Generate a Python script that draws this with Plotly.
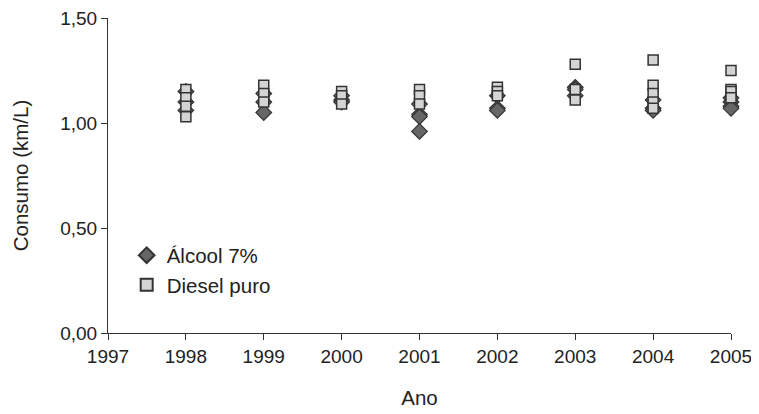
import plotly.graph_objects as go

# Data
alcool_x = [1998, 1998, 1998,
            1999, 1999, 1999,
            2000, 2000, 2000,
            2001, 2001, 2001, 2001,
            2002, 2002, 2002,
            2003, 2003, 2003,
            2004, 2004, 2004,
            2005, 2005, 2005, 2005]
alcool_y = [1.15, 1.10, 1.06,
            1.14, 1.10, 1.05,
            1.13, 1.11, 1.10,
            1.09, 1.04, 1.03, 0.96,
            1.13, 1.07, 1.06,
            1.17, 1.16, 1.13,
            1.11, 1.07, 1.06,
            1.12, 1.10, 1.08, 1.07]

diesel_x = [1998, 1998, 1998, 1998,
            1999, 1999, 1999,
            2000, 2000, 2000,
            2001, 2001, 2001,
            2002, 2002, 2002,
            2003, 2003, 2003,
            2004, 2004, 2004, 2004, 2004,
            2005, 2005, 2005, 2005]
diesel_y = [1.16, 1.12, 1.08, 1.03,
            1.18, 1.14, 1.10,
            1.15, 1.13, 1.09,
            1.16, 1.13, 1.09,
            1.17, 1.15, 1.13,
            1.28, 1.16, 1.11,
            1.30, 1.18, 1.14, 1.10, 1.07,
            1.25, 1.16, 1.15, 1.12]

x_ticks = [1997, 1998, 1999, 2000, 2001, 2002, 2003, 2004, 2005]
y_ticks = [0.0, 0.5, 1.0, 1.5]

FONT = "Liberation Sans"
FS = 20.5
TFS = 19
TXT = "#222222"

fig = go.Figure()
fig.add_trace(go.Scatter(
    x=alcool_x, y=alcool_y, mode="markers", name="Álcool 7%",
    cliponaxis=False,
    marker=dict(symbol="diamond", size=12, color="#666666",
                line=dict(color="#333333", width=1.2)),
))
fig.add_trace(go.Scatter(
    x=diesel_x, y=diesel_y, mode="markers", name="Diesel puro",
    cliponaxis=False,
    marker=dict(symbol="square", size=10, color="#d4d4d4",
                line=dict(color="#333333", width=1.5)),
))

fig.update_layout(
    width=751, height=406,
    margin=dict(l=100, r=28, t=10, b=81),
    paper_bgcolor="white", plot_bgcolor="white",
    separators=",.",
    font=dict(family=FONT, size=FS, color=TXT),
    showlegend=True,
    legend=dict(x=0.03, y=0.31, xanchor="left", yanchor="top",
                bgcolor="rgba(0,0,0,0)", font=dict(family=FONT, size=FS, color=TXT),
                itemsizing="constant", tracegroupgap=0),
    xaxis=dict(range=[1997, 2005], tickvals=x_ticks, ticktext=[str(v) for v in x_ticks],
               showgrid=False, zeroline=False, showline=True, linecolor="#333333",
               linewidth=1, ticks="outside", ticklen=6, tickcolor="#333333",
               ticklabeloverflow="allow", automargin=False,
               tickfont=dict(family=FONT, size=TFS, color=TXT),
               title=dict(text="Ano", standoff=24, font=dict(family=FONT, size=FS, color=TXT))),
    yaxis=dict(range=[0, 1.5], tickvals=y_ticks, tickformat=".2f",
               showgrid=False, zeroline=False, showline=True, linecolor="#333333",
               linewidth=1, ticks="outside", ticklen=6, tickcolor="#333333",
               ticklabeloverflow="allow", automargin=False,
               tickfont=dict(family=FONT, size=TFS, color=TXT),
               title=dict(text="Consumo (km/L)", standoff=26, font=dict(family=FONT, size=FS, color=TXT))),
)

fig.write_html("out.html")
